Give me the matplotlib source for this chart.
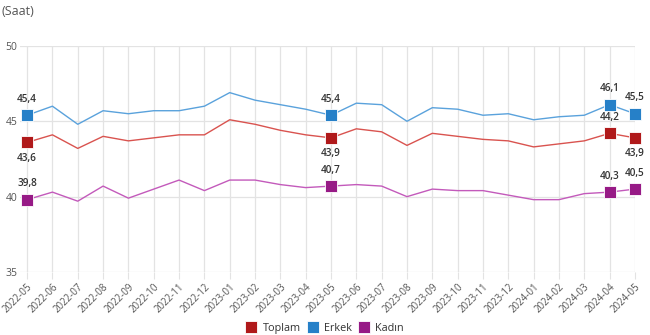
import matplotlib
matplotlib.use("Agg")
import matplotlib.pyplot as plt
from matplotlib.lines import Line2D

plt.rcParams['font.family'] = ['Open Sans', 'DejaVu Sans']

months = ["2022-05", "2022-06", "2022-07", "2022-08", "2022-09", "2022-10",
          "2022-11", "2022-12", "2023-01", "2023-02", "2023-03", "2023-04",
          "2023-05", "2023-06", "2023-07", "2023-08", "2023-09", "2023-10",
          "2023-11", "2023-12", "2024-01", "2024-02", "2024-03", "2024-04",
          "2024-05"]

toplam = [43.6, 44.1, 43.2, 44.0, 43.7, 43.9, 44.1, 44.1, 45.1, 44.8, 44.4, 44.1,
          43.9, 44.5, 44.3, 43.4, 44.2, 44.0, 43.8, 43.7, 43.3, 43.5, 43.7, 44.2,
          43.9]
erkek = [45.4, 46.0, 44.8, 45.7, 45.5, 45.7, 45.7, 46.0, 46.9, 46.4, 46.1, 45.8,
         45.4, 46.2, 46.1, 45.0, 45.9, 45.8, 45.4, 45.5, 45.1, 45.3, 45.4, 46.1,
         45.5]
kadin = [39.8, 40.3, 39.7, 40.7, 39.9, 40.5, 41.1, 40.4, 41.1, 41.1, 40.8, 40.6,
         40.7, 40.8, 40.7, 40.0, 40.5, 40.4, 40.4, 40.1, 39.8, 39.8, 40.2, 40.3,
         40.5]

series_names = ["Toplam", "Erkek", "Kadın"]
highlight = [0, 12, 23, 24]

fig = plt.figure(figsize=(6.5, 3.35), dpi=100)
ax = fig.add_axes([0.0308, 0.188, 0.946, 0.675])

grid_col = "#e3e3e3"
x = list(range(len(months)))

ax.set_xlim(-0.28, len(months) - 1)
ax.set_ylim(35, 50)
ax.set_yticks([35, 40, 45, 50])
ax.set_xticks(x)
ax.set_xticklabels(months, rotation=45, ha="right", rotation_mode="anchor",
                   fontsize=7, color="#555555")
ax.tick_params(axis="x", length=5, color=grid_col, pad=2)
ax.tick_params(axis="y", length=0, pad=2, labelsize=7.5, labelcolor="#555555")
ax.grid(True, color=grid_col, linewidth=0.9)
ax.set_axisbelow(True)
for s in ax.spines.values():
    s.set_visible(False)

styles = [
    (toplam, "#d9534f", "#b0191a"),
    (erkek, "#5aa2dc", "#2680c8"),
    (kadin, "#c35abb", "#971a86"),
]

for (vals, lc, mc) in styles:
    ax.plot(x, vals, color=lc, linewidth=1.0, zorder=3)
    hx = [x[i] for i in highlight]
    hy = [vals[i] for i in highlight]
    ax.plot(hx, hy, linestyle="none", marker="s", markersize=8.5,
            markerfacecolor=mc, markeredgecolor="white", markeredgewidth=0.6,
            zorder=4, clip_on=False)

def fmt(v):
    return f"{v:.1f}".replace(".", ",")

lbl_kw = dict(fontsize=7.2, color="#333333", fontweight="semibold", ha="center")
for i in highlight:
    # Erkek above
    ax.annotate(fmt(erkek[i]), (x[i], erkek[i]), xytext=(0, 7.5),
                textcoords="offset points", va="bottom", **lbl_kw)
    # Kadın above
    ax.annotate(fmt(kadin[i]), (x[i], kadin[i]), xytext=(0, 7.5),
                textcoords="offset points", va="bottom", **lbl_kw)
    # Toplam below, except where it would collide
    if i == 23:
        ax.annotate(fmt(toplam[i]), (x[i], toplam[i]), xytext=(0, 7.5),
                    textcoords="offset points", va="bottom", **lbl_kw)
    else:
        ax.annotate(fmt(toplam[i]), (x[i], toplam[i]), xytext=(0, -7.5),
                    textcoords="offset points", va="top", **lbl_kw)

fig.text(0.003, 0.985, "(Saat)", fontsize=9, color="#555555", va="top", ha="left")

handles = [Line2D([0], [0], linestyle="none", marker="s", markersize=8.5,
                  markerfacecolor=mc, markeredgecolor="white", markeredgewidth=0.6)
           for (_, _, mc) in styles]
fig.legend(handles, series_names, loc="lower center", bbox_to_anchor=(0.5, -0.025),
           ncol=3, frameon=False, fontsize=7.8, handletextpad=0.55,
           columnspacing=0.6, handlelength=1.0, labelcolor="#333333")

fig.savefig("out.png", dpi=100)
